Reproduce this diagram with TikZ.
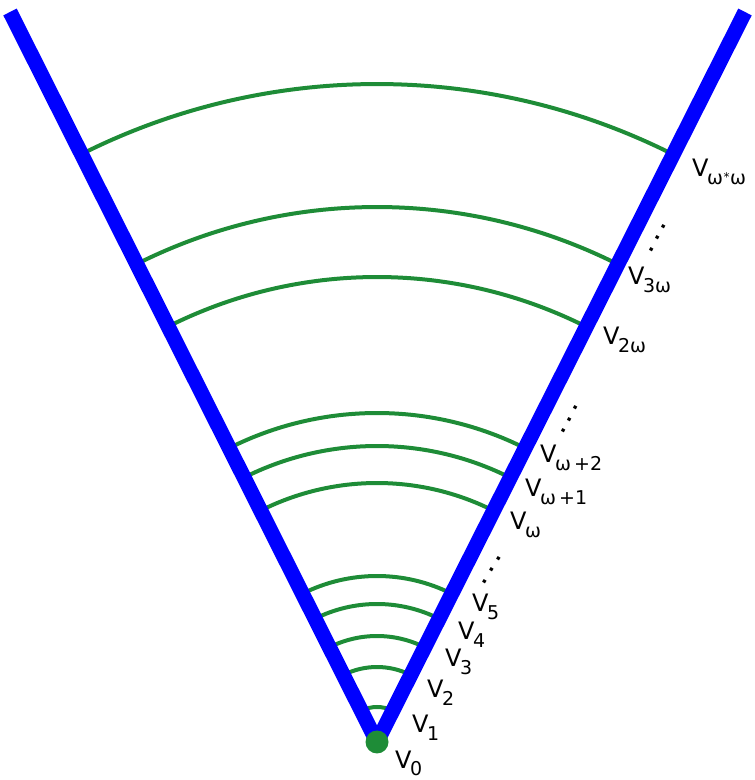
\documentclass[tikz,border=0pt]{standalone}
\usepackage{fontspec}
\setmainfont{DejaVu Sans}
\definecolor{arcgreen}{RGB}{30,140,55}
\newcommand{\vlabel}[1]{V\kern-1.5pt\raisebox{-7.5pt}{\fontsize{19}{19}\selectfont #1}}
\begin{document}
\begin{tikzpicture}[x=1pt,y=1pt,
  arcline/.style={draw=arcgreen, line width=4pt},
  arm/.style={draw=blue, line width=15pt},
  vlab/.style={anchor=base west, inner sep=0pt, font=\fontsize{24}{24}\selectfont},
  dotsnode/.style={inner sep=0pt, anchor=base, font=\fontsize{18}{18}\selectfont\bfseries}]
\useasboundingbox (0,0) rectangle (755,780);
\coordinate (apex) at (377,38);
\coordinate (tl) at (10,768);
\coordinate (tr) at (745,768);
\foreach \r in {35,75,106,138,166,259,296,329,465,535,658}
  \draw[arcline] (apex) ++(63.3:\r) arc[start angle=63.3, end angle=116.7, radius=\r];
\draw[arm] (apex) -- (tl);
\draw[arm] (apex) -- (tr);
\node[circle, fill=arcgreen, minimum size=23pt, inner sep=0pt] (v0dot) at (apex) {};
\node[vlab] (l0) at (395,12) {\vlabel{0}};
\node[vlab] (l1) at (412,47) {\vlabel{1}};
\node[vlab] (l2) at (427,82) {\vlabel{2}};
\node[vlab] (l3) at (445,113) {\vlabel{3}};
\node[vlab] (l4) at (458,140) {\vlabel{4}};
\node[vlab] (l5) at (472,168) {\vlabel{5}};
\node[vlab] (lw) at (510,250) {\vlabel{ω}};
\node[vlab] (lw1) at (525,283) {\vlabel{ω\,+1}};
\node[vlab] (lw2) at (540,317) {\vlabel{ω\,+2}};
\node[vlab] (l2w) at (603,435) {\vlabel{2ω}};
\node[vlab] (l3w) at (628,495) {\vlabel{3ω}};
\node[vlab] (lww) at (692,603) {\vlabel{ω\kern0.5pt\raisebox{3pt}{\fontsize{12}{12}\selectfont *}\kern0.5ptω}};
\node[dotsnode, rotate=59] (d1) at (493,209) {.\hspace{7pt}.\hspace{7pt}.};
\node[dotsnode, rotate=62] (d2) at (571,360) {.\hspace{6pt}.\hspace{6pt}.};
\node[dotsnode, rotate=61] (d3) at (659,541) {.\hspace{6pt}.\hspace{6pt}.};
\end{tikzpicture}
\end{document}
